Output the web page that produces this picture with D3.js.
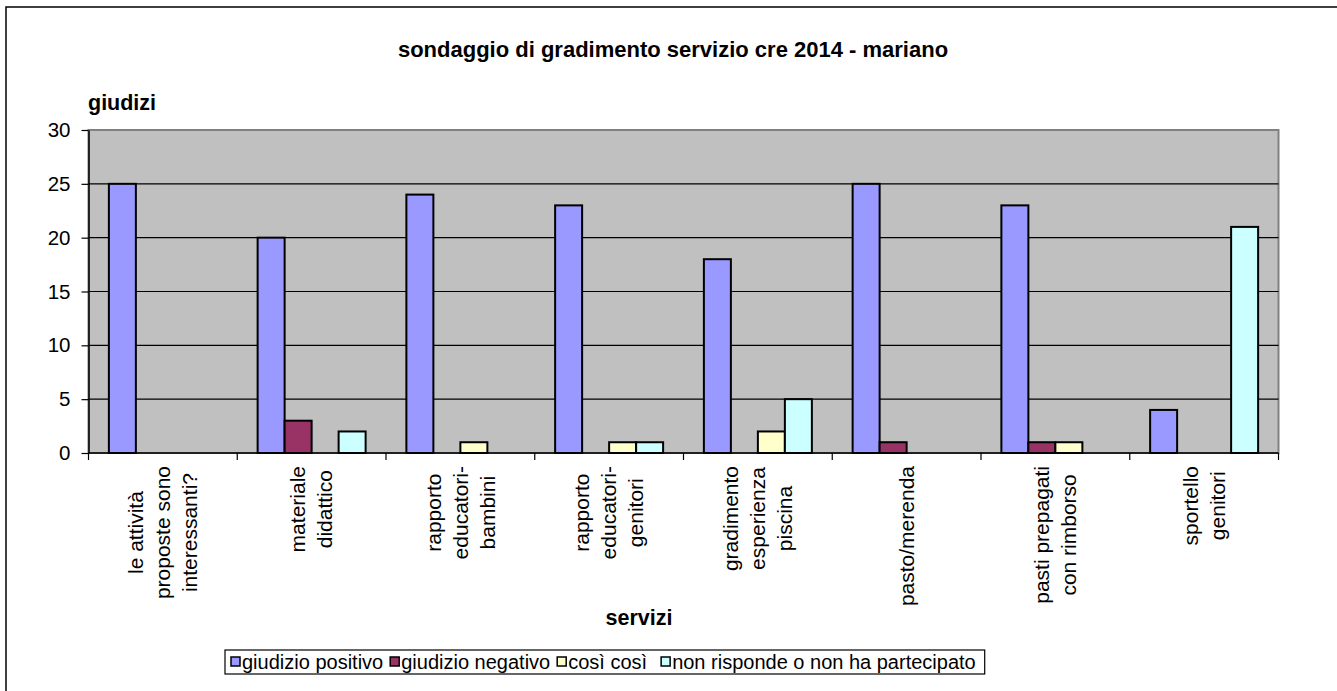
<!DOCTYPE html>
<html>
<head>
<meta charset="utf-8">
<script src="https://cdn.jsdelivr.net/npm/d3@7"></script>
<style>
  html, body { margin: 0; background: #fff; overflow: hidden; }
  svg { display: block; font-family: Arial, "Liberation Sans", sans-serif; }
</style>
</head>
<body>
<div id="chart"></div>
<script>
// categories (each one split into the lines shown under the axis)
const categories = [
    ["le attività", "proposte sono", "interessanti?"],
    ["materiale", "didattico"],
    ["rapporto", "educatori-", "bambini"],
    ["rapporto", "educatori-", "genitori"],
    ["gradimento", "esperienza", "piscina"],
    ["pasto/merenda"],
    ["pasti prepagati", "con rimborso"],
    ["sportello", "genitori"]
];

const seriesNames = ["giudizio positivo", "giudizio negativo", "così così", "non risponde o non ha partecipato"];
const positivo = [25, 20, 24, 23, 18, 25, 23, 4];
const negativo = [0, 3, 0, 0, 0, 1, 1, 0];
const cosiCosi = [0, 0, 1, 1, 2, 0, 1, 0];
const nonRisponde = [0, 2, 0, 1, 5, 0, 0, 21];
const yTicks = [0, 5, 10, 15, 20, 25, 30];

const COLORS = ["#9999FF", "#993366", "#FFFFCC", "#CCFFFF"];

const svgWidth = 1337;
const svgHeight = 691;

const plot = { left: 88.5, right: 1278.5, top: 130, bottom: 453 };

const svg = d3.select("#chart").append("svg")
    .attr("width", svgWidth)
    .attr("height", svgHeight);

// chart area border: only its left and top edges are inside the picture
svg.append("path")
    .attr("d", `M6,${svgHeight} V7 H${svgWidth}`)
    .attr("fill", "none")
    .attr("stroke", "black")
    .attr("stroke-width", 1.5);

const catIdx = d3.range(categories.length);

const x = d3.scaleBand()
    .domain(catIdx)
    .range([plot.left, plot.right]);

const xInner = d3.scaleBand()
    .domain(d3.range(seriesNames.length))
    .range([0, x.bandwidth()])
    .paddingOuter(0.755)
    .paddingInner(0);

const y = d3.scaleLinear()
    .domain([0, 30])
    .range([plot.bottom, plot.top]);

// plot background
svg.append("rect")
    .attr("x", plot.left).attr("y", plot.top)
    .attr("width", plot.right - plot.left)
    .attr("height", plot.bottom - plot.top)
    .attr("fill", "#C0C0C0")
    .attr("stroke", "#808080")
    .attr("stroke-width", 2);

// gridlines
svg.append("g")
    .selectAll("line")
    .data(yTicks.filter(d => d > 0 && d < 30))
    .join("line")
    .attr("x1", plot.left).attr("x2", plot.right)
    .attr("y1", d => y(d)).attr("y2", d => y(d))
    .attr("stroke", "black")
    .attr("stroke-width", 1.2);

// bars
const series = [positivo, negativo, cosiCosi, nonRisponde];
const bars = [];
series.forEach((vals, s) => vals.forEach((v, c) => { if (v > 0) bars.push({ s, c, v }); }));

svg.append("g")
    .selectAll("rect")
    .data(bars)
    .join("rect")
    .attr("x", d => x(d.c) + xInner(d.s))
    .attr("y", d => y(d.v))
    .attr("width", xInner.bandwidth())
    .attr("height", d => y(0) - y(d.v))
    .attr("fill", d => COLORS[d.s])
    .attr("stroke", "black")
    .attr("stroke-width", 2);

// y axis
const yAxis = g => g
    .attr("transform", `translate(${plot.left},0)`)
    .call(d3.axisLeft(y).tickValues(yTicks).tickSize(7).tickPadding(11).tickSizeOuter(0))
    .call(g => g.selectAll("line").attr("stroke", "black").attr("stroke-width", 1.2))
    .call(g => g.select(".domain").attr("stroke", "black").attr("stroke-width", 1.5))
    .call(g => g.selectAll("text").attr("font-size", 20.5).attr("fill", "black")
        .attr("font-family", "Arial, 'Liberation Sans', sans-serif"));
svg.append("g").call(yAxis);

// x axis: ticks at category boundaries
const boundaries = d3.range(categories.length + 1).map(i => plot.left + i * x.bandwidth());
svg.append("line")
    .attr("x1", plot.left).attr("x2", plot.right)
    .attr("y1", y(0)).attr("y2", y(0))
    .attr("stroke", "black").attr("stroke-width", 1.5);
svg.append("g")
    .selectAll("line")
    .data(boundaries)
    .join("line")
    .attr("x1", d => d).attr("x2", d => d)
    .attr("y1", y(0)).attr("y2", y(0) + 7)
    .attr("stroke", "black").attr("stroke-width", 1.2);

// category labels, rotated
const labelTop = 466;
const lineGap = 27;
catIdx.forEach(c => {
    const lines = categories[c];
    const cx = x(c) + x.bandwidth() / 2;
    const g = svg.append("g")
        .attr("transform", `translate(${cx},${labelTop}) rotate(-90)`);
    const texts = g.selectAll("text")
        .data(lines)
        .join("text")
        .attr("y", (d, i) => (i - (lines.length - 1) / 2) * lineGap)
        .attr("dy", "0.35em")
        .attr("text-anchor", "middle")
        .attr("font-size", 21)
        .text(d => d);
    const maxW = d3.max(texts.nodes(), n => n.getComputedTextLength());
    texts.attr("x", -maxW / 2);
});

// title and axis titles
svg.append("text")
    .attr("x", 673).attr("y", 57)
    .attr("text-anchor", "middle")
    .attr("font-weight", "bold")
    .attr("font-size", 22)
    .text("sondaggio di gradimento servizio cre 2014 - mariano");

svg.append("text")
    .attr("x", 88).attr("y", 110)
    .attr("font-weight", "bold")
    .attr("font-size", 21.5)
    .text("giudizi");

svg.append("text")
    .attr("x", 639).attr("y", 625)
    .attr("text-anchor", "middle")
    .attr("font-weight", "bold")
    .attr("font-size", 21.5)
    .text("servizi");

// legend
const legend = svg.append("g");
const legendBox = legend.append("rect")
    .attr("x", 225).attr("y", 650)
    .attr("height", 24)
    .attr("fill", "white")
    .attr("stroke", "black")
    .attr("stroke-width", 1.2);

let lx = 231;
seriesNames.forEach((name, i) => {
    legend.append("rect")
        .attr("x", lx).attr("y", 657)
        .attr("width", 9).attr("height", 9)
        .attr("fill", COLORS[i])
        .attr("stroke", "black")
        .attr("stroke-width", 1.5);
    const t = legend.append("text")
        .attr("x", lx + 11).attr("y", 669)
        .attr("font-size", 20)
        .text(name);
    lx += 11 + t.node().getComputedTextLength() + (i === 2 ? 14 : 7);
});
legendBox.attr("width", lx - 225 + 2);
</script>
</body>
</html>
